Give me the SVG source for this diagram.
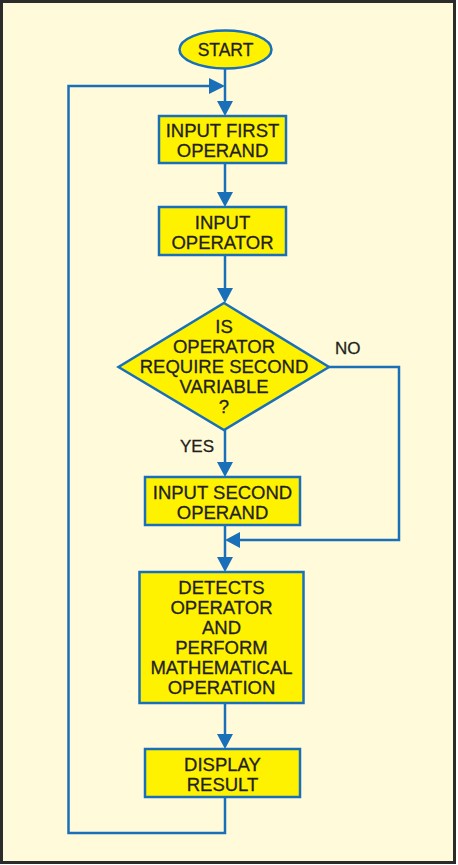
<svg xmlns="http://www.w3.org/2000/svg" width="458" height="865" viewBox="0 0 458 865">
<style>
.bg{fill:#fffad9;stroke:#2b2b2b;stroke-width:3}
.box{fill:#fff200;stroke:#1a70b8;stroke-width:2.5}
.ln{fill:none;stroke:#1a70b8;stroke-width:2.5}
.ah{fill:#1a70b8}
text{font-family:"Liberation Sans",Arial,sans-serif;font-size:18.5px;fill:#231f20;stroke:#231f20;stroke-width:0.3;text-anchor:middle}
.lbl{font-size:17px;text-anchor:start}
</style>
<defs>
<path id="ad" d="M-8,-15 L8,-15 L0,0 Z"/>
</defs>
<rect class="bg" x="1.5" y="1.5" width="453" height="861"/>
<g id="connectors">
<line class="ln" x1="225" y1="69" x2="225" y2="102"/>
<use href="#ad" class="ah" x="225" y="116"/>
<line class="ln" x1="225" y1="163" x2="225" y2="193"/>
<use href="#ad" class="ah" x="225" y="207"/>
<line class="ln" x1="225" y1="255" x2="225" y2="289"/>
<use href="#ad" class="ah" x="225" y="303"/>
<line class="ln" x1="225" y1="430" x2="225" y2="463"/>
<use href="#ad" class="ah" x="225" y="477"/>
<line class="ln" x1="225" y1="525" x2="225" y2="558"/>
<use href="#ad" class="ah" x="225" y="572"/>
<line class="ln" x1="225" y1="703" x2="225" y2="735"/>
<use href="#ad" class="ah" x="225" y="749"/>
<polyline class="ln" points="329,367 399,367 399,540 238,540"/>
<path class="ah" d="M225,540 L240,532 L240,548 Z"/>
<polyline class="ln" points="225,797 225,833 68.5,833 68.5,86 212,86"/>
<path class="ah" d="M225,86 L209,78 L209,94 Z"/>
<text class="lbl" x="335" y="354">NO</text>
<text class="lbl" x="180" y="452">YES</text>
</g>
<g id="start">
<ellipse class="box" cx="225.5" cy="49.5" rx="46" ry="19"/>
<text x="225.5" y="55.5" style="font-size:17.5px">START</text>
</g>
<g id="input1">
<rect class="box" x="159" y="116" width="127" height="47"/>
<text x="222.5" y="136.5">INPUT FIRST</text>
<text x="222.5" y="156.5">OPERAND</text>
</g>
<g id="inputop">
<rect class="box" x="159" y="207" width="127" height="48"/>
<text x="222.5" y="229">INPUT</text>
<text x="222.5" y="249">OPERATOR</text>
</g>
<g id="decision">
<polygon class="box" points="224,303 329,367 224,430 118.5,367"/>
<text x="224" y="332.5">IS</text>
<text x="224" y="353">OPERATOR</text>
<text x="224" y="373">REQUIRE SECOND</text>
<text x="224" y="393">VARIABLE</text>
<text x="224" y="413">?</text>
</g>
<g id="input2">
<rect class="box" x="145" y="477" width="155" height="48"/>
<text x="222.5" y="499">INPUT SECOND</text>
<text x="222.5" y="519">OPERAND</text>
</g>
<g id="detect">
<rect class="box" x="139.5" y="572" width="164" height="131"/>
<text x="221.5" y="594">DETECTS</text>
<text x="221.5" y="614">OPERATOR</text>
<text x="221.5" y="634">AND</text>
<text x="221.5" y="654">PERFORM</text>
<text x="221.5" y="674">MATHEMATICAL</text>
<text x="221.5" y="694">OPERATION</text>
</g>
<g id="display">
<rect class="box" x="145" y="749" width="155" height="48"/>
<text x="222.5" y="771">DISPLAY</text>
<text x="222.5" y="790.5">RESULT</text>
</g>
</svg>
